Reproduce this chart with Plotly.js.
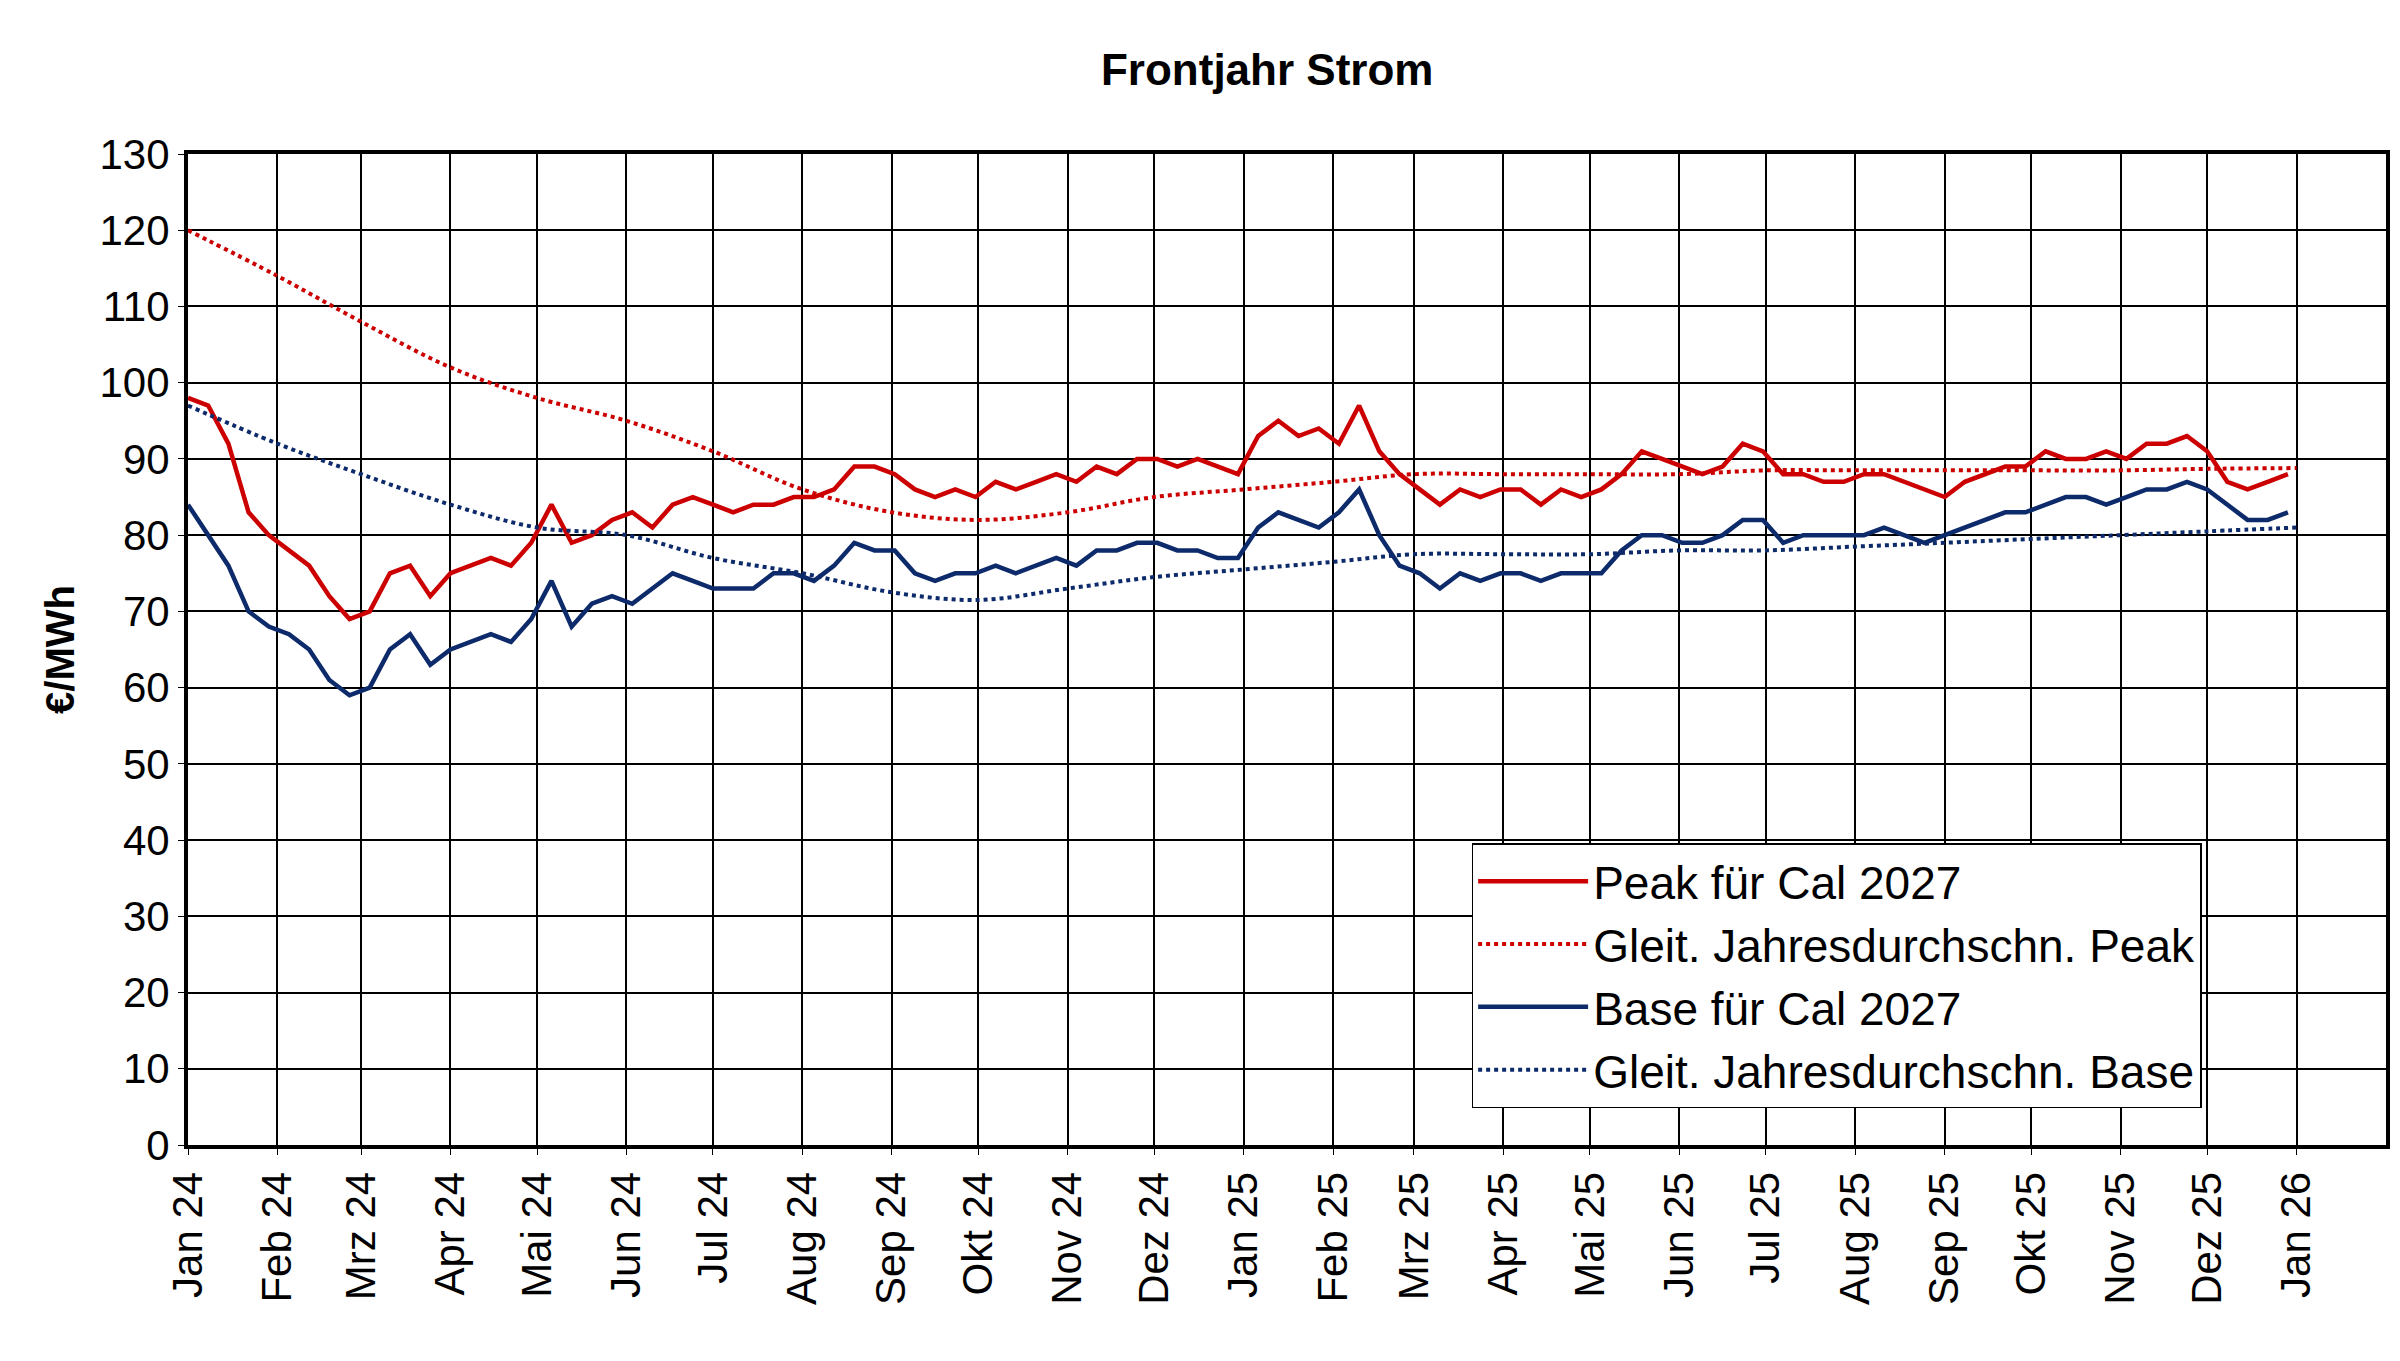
<!DOCTYPE html>
<html>
<head>
<meta charset="utf-8">
<script src="https://cdn.plot.ly/plotly-3.0.1.min.js"></script>
<style>body{margin:0;background:#fff}#chart{width:2400px;height:1361px}</style>
</head>
<body>
<div id="chart"></div>
<script>
// weekly values, first week = 1 Jan 2024
var peak = [98,97,92,83,80, 78,76,72,69, 70,75,76,72,75, 76,77,76,79,84, 79,80,82,83,
  81,84,85,84,83, 84,84,85,85, 86,89,89,88, 86,85,86,85, 87,86,87,88, 87,89,88,90,
  90,89,90,89,88,
  93,95,93,94, 92,97,91,88, 86,84,86,85,86, 86,84,86,85, 86,88,91,90,89, 88,89,92,91,
  88,88,87,87, 88,88,87,86, 85,87,88,89, 89,91,90,90,91, 90,92,92,93, 91,87,86,87,88];
var base = [84,80,76,70,68, 67,65,61,59, 60,65,67,63,65, 66,67,66,69,74, 68,71,72,71,
  73,75,74,73,73, 73,75,75,74, 76,79,78,78, 75,74,75,75, 76,75,76,77, 76,78,78,79,
  79,78,78,77,77,
  81,83,82,81, 83,86,80,76, 75,73,75,74,75, 75,74,75,75, 75,78,80,80,79, 79,80,82,82,
  79,80,80,80, 80,81,80,79, 80,81,82,83, 83,84,85,85,84, 85,86,86,87, 86,84,82,82,83];
// rolling annual averages, first of each month Jan 24 .. Jan 26
var peakAvg = [120,114,108,102,98,95,91,86,83,82,83,85,86,87,88,88,88,88,88.5,88.5,88.5,88.5,88.5,88.7,88.8];
var baseAvg = [97,92,88,84,81,80,77,75,72.5,71.5,73,74.5,75.5,76.5,77.5,77.5,77.5,78,78,78.5,79,79.5,80,80.5,81];
var monthNames = ['Jan','Feb','Mrz','Apr','Mai','Jun','Jul','Aug','Sep','Okt','Nov','Dez'];

var weekDates = peak.map(function(v, i) {
  var d = new Date(Date.UTC(2024, 0, 1 + 7 * i));
  return d.toISOString().slice(0, 10);
});
var monthDates = [], monthLabels = [];
for (var m = 0; m < 25; m++) {
  var y = 2024 + Math.floor(m / 12), mm = m % 12;
  monthDates.push(y + '-' + String(mm + 1).padStart(2, '0') + '-01');
  monthLabels.push(monthNames[mm] + ' ' + String(y).slice(2));
}

var red = '#cc0000', blue = '#0d2a6b';
var data = [
  {x: weekDates, y: peak, name: 'Peak für Cal 2027', mode: 'lines', line: {color: red, width: 4.5}},
  {x: monthDates, y: peakAvg, name: 'Gleit. Jahresdurchschn. Peak', mode: 'lines', line: {color: red, width: 4, dash: 'dot', shape: 'spline'}},
  {x: weekDates, y: base, name: 'Base für Cal 2027', mode: 'lines', line: {color: blue, width: 4.5}},
  {x: monthDates, y: baseAvg, name: 'Gleit. Jahresdurchschn. Base', mode: 'lines', line: {color: blue, width: 4, dash: 'dot', shape: 'spline'}}
];
var layout = {
  width: 2400, height: 1361,
  margin: {l: 188, r: 14, t: 154, b: 216},
  paper_bgcolor: '#fff', plot_bgcolor: '#fff',
  font: {family: 'Liberation Sans, Arial, sans-serif', color: '#000'},
  title: {text: '<b>Frontjahr Strom</b>', font: {size: 44}, x: 0.528, xanchor: 'center', y: 0.96},
  xaxis: {type: 'date', range: ['2024-01-01', '2026-02-01'], tickvals: monthDates, ticktext: monthLabels,
    tickangle: -90, tickfont: {size: 42}, showgrid: true, gridcolor: '#000', gridwidth: 1.5,
    showline: true, linecolor: '#000', linewidth: 4, mirror: true, ticks: 'outside', ticklen: 6, tickcolor: '#000'},
  yaxis: {range: [0, 130], dtick: 10, tickfont: {size: 42}, showgrid: true, gridcolor: '#000', gridwidth: 1.5,
    showline: true, linecolor: '#000', linewidth: 4, mirror: true, ticks: 'outside', ticklen: 6, tickcolor: '#000',
    title: {text: '<b>€/MWh</b>', font: {size: 40}, standoff: 14}, zeroline: false},
  showlegend: true,
  legend: {x: 0.584, y: 0.037, xanchor: 'left', yanchor: 'bottom', bgcolor: '#fff', bordercolor: '#000', borderwidth: 1.5,
    font: {size: 46}, tracegroupgap: 0, itemwidth: 110}
};
Plotly.newPlot('chart', data, layout, {displayModeBar: false});
</script>
</body>
</html>
